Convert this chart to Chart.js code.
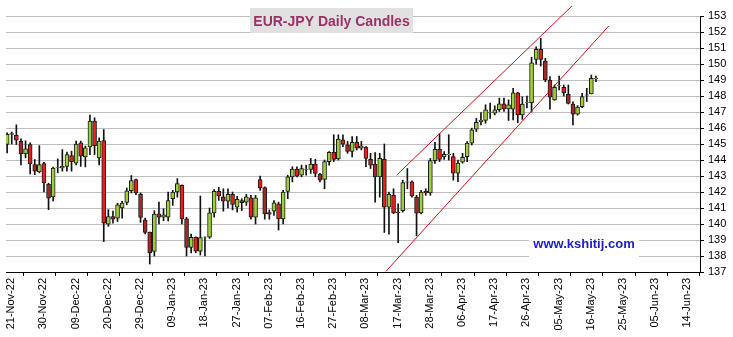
<!DOCTYPE html>
<html>
<head>
<meta charset="utf-8">
<title>EUR-JPY Daily Candles</title>
<script src="https://cdn.jsdelivr.net/npm/chart.js@4/dist/chart.umd.min.js"></script>
<style>
  html, body { margin: 0; padding: 0; background: #fff; }
  canvas { display: block; }
</style>
</head>
<body>
<canvas id="candles" width="733" height="337"></canvas>
<script>
// one bar per weekday, starting Mon 21-Nov-22
const opens = [
  144.97, 145.60, 145.54, 145.16, 144.38, 144.97, 143.72, 143.26, 143.78, 142.50,
  141.69, 143.50, 143.50, 143.60, 144.28, 143.80, 145.07, 144.20, 144.82, 146.43,
  144.13, 145.22, 139.99, 140.47, 140.37, 141.00, 141.35, 142.08, 142.77, 141.87,
  140.26, 139.50, 138.28, 140.63, 140.42, 140.42, 141.58, 142.00, 142.42, 140.32,
  138.53, 139.17, 138.30, 139.17, 139.17, 140.69, 142.04, 141.70, 141.43, 141.85,
  141.05, 141.47, 141.37, 141.64, 140.42, 142.78, 142.27, 140.72, 140.80, 141.26,
  140.32, 142.04, 142.95, 143.43, 143.05, 143.41, 143.41, 143.75, 143.12, 142.78,
  143.90, 144.48, 144.06, 145.26, 144.95, 144.53, 145.10, 144.74, 144.80, 144.04,
  143.75, 142.95, 144.04, 141.05, 141.79, 140.75, 140.84, 142.62, 142.63, 141.68,
  140.69, 142.04, 141.94, 143.96, 144.67, 144.20, 144.33, 144.22, 143.17, 143.86,
  144.21, 145.05, 145.92, 146.40, 146.47, 146.98, 146.93, 147.14, 147.51, 147.20,
  147.17, 148.20, 146.81, 147.57, 147.58, 150.29, 150.92, 150.19, 149.00, 147.75,
  148.63, 148.54, 148.10, 147.50, 146.86, 147.33, 148.05, 148.13, 149.09
];
const highs = [
  145.70, 145.75, 146.20, 145.33, 145.20, 145.07, 144.03, 144.90, 143.86, 142.55,
  143.55, 144.07, 144.65, 144.50, 144.55, 145.18, 145.18, 144.87, 146.80, 146.64,
  145.39, 145.90, 140.90, 140.80, 141.30, 141.41, 142.25, 143.03, 142.80, 141.94,
  140.37, 139.50, 140.83, 141.37, 140.95, 142.00, 142.10, 142.84, 142.45, 140.42,
  139.37, 139.20, 141.75, 139.20, 141.00, 142.15, 142.30, 142.20, 142.20, 142.00,
  141.73, 141.58, 141.85, 141.79, 141.79, 142.99, 142.32, 140.88, 141.47, 141.37,
  142.10, 143.05, 143.58, 143.58, 143.68, 143.68, 144.10, 144.04, 143.16, 144.00,
  144.53, 145.58, 145.58, 145.58, 145.16, 145.47, 145.47, 145.16, 144.84, 144.42,
  144.46, 144.42, 145.00, 142.00, 142.20, 141.26, 142.74, 143.47, 142.70, 141.79,
  142.10, 142.20, 144.10, 145.10, 145.64, 144.53, 145.58, 144.42, 144.00, 144.42,
  145.15, 145.99, 146.60, 146.97, 147.45, 147.55, 147.39, 147.87, 147.87, 147.76,
  148.48, 148.24, 147.96, 148.00, 150.42, 151.08, 151.60, 150.36, 149.21, 148.69,
  149.25, 148.69, 148.69, 147.64, 147.40, 148.17, 148.48, 149.31, 149.25
];
const lows = [
  144.45, 145.00, 144.97, 143.70, 144.13, 143.13, 143.09, 143.20, 142.00, 140.90,
  141.45, 143.20, 143.30, 143.30, 143.30, 143.70, 143.60, 143.57, 144.34, 144.34,
  143.70, 138.90, 139.85, 140.05, 140.16, 140.37, 141.20, 141.94, 141.83, 140.10,
  139.38, 137.50, 138.00, 140.00, 140.20, 140.20, 141.16, 141.68, 140.00, 138.00,
  138.20, 138.20, 138.06, 138.00, 139.10, 140.42, 141.47, 140.80, 141.00, 140.88,
  140.74, 140.84, 141.16, 140.30, 140.00, 142.10, 140.30, 140.30, 140.53, 139.62,
  140.00, 141.58, 142.63, 142.95, 142.95, 143.05, 143.16, 142.95, 142.63, 142.20,
  143.68, 143.90, 144.00, 144.84, 144.42, 144.20, 144.63, 144.63, 143.58, 143.47,
  141.37, 141.68, 139.47, 139.37, 140.65, 138.84, 140.74, 142.20, 141.68, 139.26,
  140.63, 141.79, 141.79, 143.79, 143.90, 144.04, 144.00, 142.74, 142.65, 143.80,
  143.90, 144.94, 145.78, 146.20, 146.30, 146.60, 146.82, 147.03, 147.03, 146.47,
  146.50, 146.33, 146.54, 147.25, 147.00, 149.99, 149.87, 148.90, 147.17, 147.73,
  148.38, 148.00, 147.50, 146.19, 146.80, 147.27, 147.65, 148.13, 148.90
];
const closes = [
  145.60, 145.65, 145.24, 144.38, 144.70, 143.76, 143.30, 143.72, 142.56, 141.62,
  143.50, 143.52, 143.60, 144.34, 143.90, 145.00, 144.24, 144.76, 146.43, 144.90,
  145.18, 140.05, 140.47, 140.30, 141.20, 141.30, 142.08, 142.71, 141.94, 140.41,
  139.47, 138.21, 140.62, 140.42, 140.57, 141.47, 142.00, 142.53, 140.32, 138.53,
  139.16, 138.30, 139.15, 139.19, 140.70, 142.04, 141.75, 141.43, 141.85, 141.22,
  141.54, 141.33, 141.70, 140.42, 141.64, 142.27, 140.63, 140.61, 141.33, 140.32,
  142.00, 142.95, 143.43, 142.99, 143.47, 143.44, 143.75, 143.16, 142.74, 143.90,
  144.48, 144.04, 145.30, 144.99, 144.53, 145.10, 144.74, 144.88, 144.10, 143.68,
  142.95, 144.10, 141.05, 141.85, 140.69, 140.70, 142.59, 142.64, 141.75, 140.67,
  142.00, 141.94, 143.96, 144.67, 144.04, 144.36, 144.35, 143.17, 143.80, 144.17,
  145.05, 145.88, 146.36, 146.50, 147.14, 147.00, 147.14, 147.51, 147.20, 147.45,
  148.20, 146.81, 147.50, 147.59, 150.08, 150.92, 150.29, 149.00, 147.92, 148.54,
  148.65, 148.21, 147.54, 146.86, 147.30, 147.96, 148.07, 149.10, 149.11
];

// date labels, one every 7 trading days
const tickLabels = [
  '21-Nov-22', '30-Nov-22', '09-Dec-22', '20-Dec-22', '29-Dec-22', '09-Jan-23',
  '18-Jan-23', '27-Jan-23', '07-Feb-23', '16-Feb-23', '27-Feb-23', '08-Mar-23',
  '17-Mar-23', '28-Mar-23', '06-Apr-23', '17-Apr-23', '26-Apr-23', '05-May-23',
  '16-May-23', '25-May-23', '05-Jun-23', '14-Jun-23'
];
const tickStep = 7;

// rising channel, ends given as [trading-day index, price]
const upperChannel = [[84.7, 143.06], [122.8, 153.63]];
const lowerChannel = [[82.4, 137.06], [130.8, 152.38]];

const UP = '#9fcf3a';
const DOWN = '#ee1c1c';
const DOWN_DARK = '#a82828';
const FONT = 'Arial, "Liberation Sans", sans-serif';

const days = opens.map((_, i) => i);
const wicks = days.map(i => ({ x: i, y: [lows[i], highs[i]] }));
const bodies = days.map(i => ({ x: i, y: [opens[i], closes[i]] }));
const bodyColors = days.map(i => {
  if (closes[i] >= opens[i]) return UP;
  const prevUp = i > 0 && closes[i - 1] > opens[i - 1];
  return prevUp ? DOWN : DOWN_DARK;
});
const toPoints = seg => seg.map(([x, y]) => ({ x, y }));

const lineStyle = {
  type: 'line',
  borderColor: '#cc1111',
  borderWidth: 1,
  pointRadius: 0,
  clip: false,
  order: 1
};

// title box and site tag drawn over the grid
const overlays = {
  id: 'overlays',
  afterDatasetsDraw(chart) {
    const ctx = chart.ctx;
    ctx.save();
    ctx.fillStyle = '#e1e1e1';
    ctx.fillRect(250, 8, 163, 25);
    ctx.fillStyle = '#993366';
    ctx.font = 'bold 14px ' + FONT;
    ctx.textAlign = 'center';
    ctx.textBaseline = 'alphabetic';
    ctx.fillText('EUR-JPY Daily Candles', 331.5, 26);

    ctx.fillStyle = '#fff';
    ctx.fillRect(529, 233, 110, 24);
    ctx.fillStyle = '#1c1cc4';
    ctx.font = 'bold 13px ' + FONT;
    ctx.fillText('www.kshitij.com', 584, 248);
    ctx.restore();
  }
};

new Chart(document.getElementById('candles'), {
  type: 'bar',
  data: {
    datasets: [
      {
        data: wicks,
        backgroundColor: '#111',
        barThickness: 1,
        grouped: false,
        order: 3
      },
      {
        data: bodies,
        backgroundColor: bodyColors,
        borderColor: '#1a1a1a',
        borderWidth: 1,
        borderSkipped: false,
        barThickness: 4,
        grouped: false,
        order: 2
      },
      Object.assign({ data: toPoints(upperChannel) }, lineStyle),
      Object.assign({ data: toPoints(lowerChannel) }, lineStyle)
    ]
  },
  options: {
    responsive: false,
    animation: false,
    devicePixelRatio: 1,
    layout: { padding: { left: 6, top: 16, right: 0, bottom: 0 } },
    plugins: {
      legend: { display: false },
      tooltip: { enabled: false },
      title: { display: false }
    },
    scales: {
      x: {
        type: 'linear',
        min: -0.25,
        max: 150.62,
        offset: false,
        afterBuildTicks(scale) {
          scale.ticks = tickLabels.map((_, k) => ({ value: k * tickStep }));
        },
        afterFit(scale) { scale.height = 65; },
        ticks: {
          autoSkip: false,
          minRotation: 90,
          maxRotation: 90,
          labelOffset: 4,
          padding: 2,
          color: '#000',
          font: { family: FONT, size: 11 },
          callback: v => tickLabels[Math.round(v / tickStep)]
        },
        grid: { drawOnChartArea: false, tickLength: 4, color: '#000' },
        border: { color: '#000' }
      },
      y: {
        position: 'right',
        min: 137,
        max: 153,
        afterFit(scale) { scale.width = 33; },
        ticks: {
          stepSize: 1,
          autoSkip: false,
          padding: 4,
          color: '#000',
          font: { family: FONT, size: 11 }
        },
        grid: { color: '#bdbdbd', tickColor: '#000', tickLength: 4 },
        border: { color: '#000' }
      }
    }
  },
  plugins: [overlays]
});
</script>
</body>
</html>
